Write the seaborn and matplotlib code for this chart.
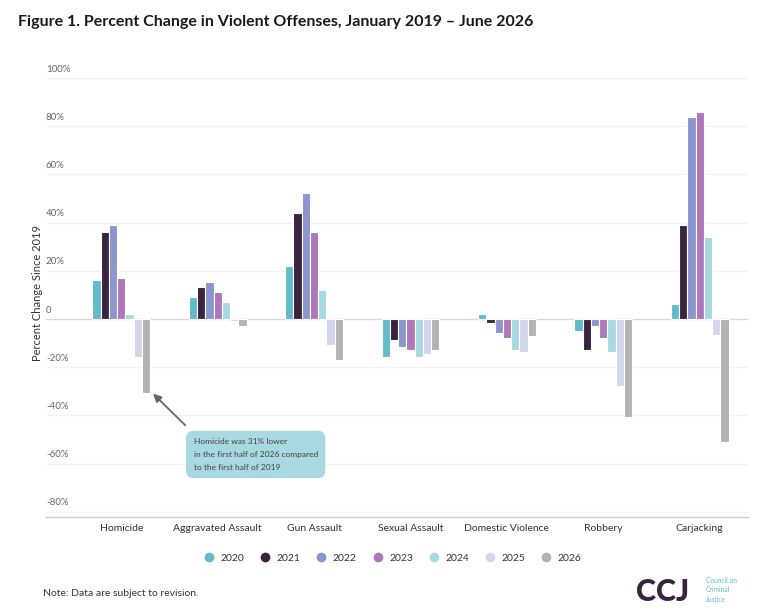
import matplotlib.pyplot as plt
from matplotlib.lines import Line2D
import pandas as pd
import seaborn as sns

categories = ["Homicide", "Aggravated Assault", "Gun Assault", "Sexual Assault",
              "Domestic Violence", "Robbery", "Carjacking"]
years = ["2020", "2021", "2022", "2023", "2024", "2025", "2026"]

pct_2020 = [16.2, 9.1, 22.1, -15.9, 2.0, -4.8, 6.1]
pct_2021 = [36.0, 13.1, 44.1, -8.8, -1.8, -12.9, 39.1]
pct_2022 = [39.1, 15.2, 52.2, -11.7, -5.9, -2.8, 83.9]
pct_2023 = [17.1, 11.1, 36.0, -12.9, -8.0, -8.0, 86.0]
pct_2024 = [2.0, 7.1, 12.0, -15.9, -12.9, -13.8, 34.0]
pct_2025 = [-15.9, -0.8, -10.9, -14.6, -13.8, -27.9, -6.6]
pct_2026 = [-30.8, -2.8, -17.0, -12.9, -6.9, -40.8, -50.9]

yticks = [100, 80, 60, 40, 20, 0, -20, -40, -60, -80]
ytick_labels = ["100%", "80%", "60%", "40%", "20%", "0", "-20%", "-40%", "-60%", "-80%"]

colors = ["#62bccb", "#3a2340", "#8b96cc", "#ad78b9", "#a8d8e0", "#d2d5ec", "#b3b3b6"]

series = [pct_2020, pct_2021, pct_2022, pct_2023, pct_2024, pct_2025, pct_2026]
rows = []
for year, vals in zip(years, series):
    for cat, v in zip(categories, vals):
        rows.append({"category": cat, "year": year, "pct": v})
df = pd.DataFrame(rows)

sns.set_theme(style="white")
plt.rcParams["font.family"] = ["Lato", "DejaVu Sans"]

fig = plt.figure(figsize=(7.68, 6.13), dpi=100)
ax = fig.add_axes([46 / 768, 1 - 517 / 613, 702 / 768, 439 / 613])

sns.barplot(data=df, x="category", y="pct", hue="year", order=categories,
            hue_order=years, palette=colors, width=0.6, ax=ax,
            edgecolor="white", linewidth=0.8, legend=False, saturation=1)

ax.set_xlim(-0.78, 6.5)
ax.set_ylim(-82.2, 100)

# grid lines and y labels sitting above them
for t, lab in zip(yticks, ytick_labels):
    ax.axhline(t, color="#d9d9d9" if t == 0 else "#f2f2f2", lw=1, zorder=0)
    ax.text(0.0, t + 1.8, lab, transform=ax.get_yaxis_transform(),
            ha="left", va="bottom", fontsize=7, color="#666666")
ax.set_yticks([])
ax.set_ylabel("Percent Change Since 2019", fontsize=8, color="#333333", labelpad=2)
ax.yaxis.set_label_coords(-0.004, 0.51)

for s in ["top", "right", "left"]:
    ax.spines[s].set_visible(False)
ax.spines["bottom"].set_color("#cccccc")
ax.spines["bottom"].set_linewidth(1)

ax.set_xticks(range(len(categories)))
ax.set_xticklabels(categories, fontsize=7.5, color="#333333")
ax.tick_params(axis="x", which="major", length=0, pad=5)
ax.set_xticks([i - 0.5 for i in range(len(categories) + 1)], minor=True)
ax.tick_params(axis="x", which="minor", length=14, width=1, color="#cccccc",
               direction="out")
ax.set_xlabel("")

ax.annotate("Homicide was 31% lower\nin the first half of 2026 compared\nto the first half of 2019",
            xy=(0.33, -31), xytext=(0.75, -49.5), fontsize=6, color="#444444",
            ha="left", va="top", linespacing=1.95,
            bbox=dict(boxstyle="round,pad=0.9,rounding_size=0.9", fc="#a8d8e0", ec="none"),
            arrowprops=dict(arrowstyle="-|>", color="#666666", lw=1.3,
                            mutation_scale=12, relpos=(0.04, 1.0), shrinkA=6, shrinkB=0))

handles = [Line2D([], [], marker="o", ls="", markersize=7, markerfacecolor=c,
                  markeredgecolor="none") for c in colors]
fig.legend(handles, years, loc="center", bbox_to_anchor=(390 / 768, 1 - 558 / 613),
           ncol=7, frameon=False, fontsize=7.5, handletextpad=0.1, columnspacing=1.0,
           labelcolor="#333333")

fig.text(18 / 768, 1 - 22 / 613,
         "Figure 1. Percent Change in Violent Offenses, January 2019 \u2013 June 2026",
         fontsize=11.5, fontweight="bold", color="#1a1a1a", va="center", ha="left")
fig.text(43 / 768, 1 - 593 / 613, "Note: Data are subject to revision.",
         fontsize=7.5, color="#333333", va="center", ha="left")
fig.text(636 / 768, 1 - 592 / 613, "CCJ", fontsize=22, fontweight="black",
         color="#3a2340", va="center", ha="left")
fig.text(706 / 768, 1 - 590 / 613, "Council on\nCriminal\nJustice", fontsize=4.8,
         color="#62bccb", va="center", ha="left", linespacing=1.4)

fig.savefig("out.png", dpi=100)
